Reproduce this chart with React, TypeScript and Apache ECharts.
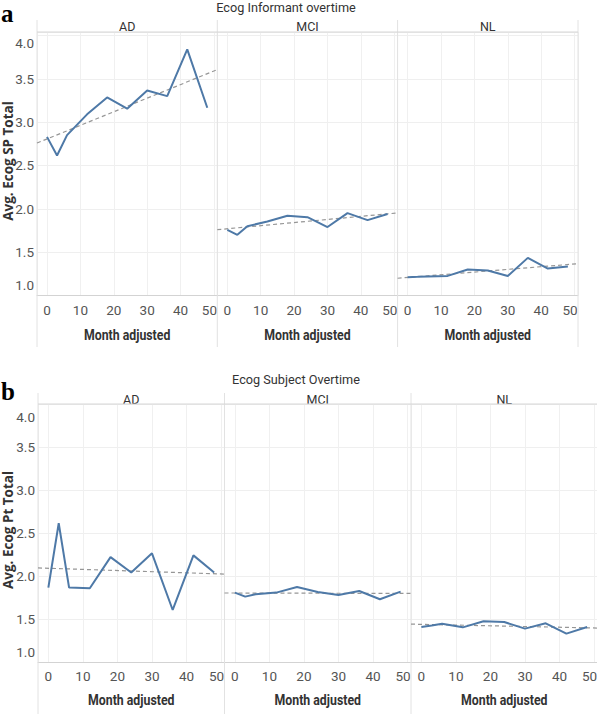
import React, { useEffect, useRef } from 'react';
import * as echarts from 'echarts';

// ---- data ----
const months = [0, 3, 6, 12, 18, 24, 30, 36, 42, 48];
const groups = ['AD', 'MCI', 'NL'];
const informantAD = [2.83, 2.615, 2.85, 3.09, 3.285, 3.155, 3.366, 3.3, 3.84, 3.166];
const informantMCI = [1.757, 1.7, 1.8, 1.853, 1.92, 1.904, 1.79, 1.95, 1.87, 1.94];
const informantNL = [1.211, 1.215, 1.22, 1.226, 1.3, 1.288, 1.224, 1.434, 1.311, 1.334];
const subjectAD = [1.865, 2.613, 1.865, 1.857, 2.22, 2.04, 2.264, 1.605, 2.24, 2.04];
const subjectMCI = [1.807, 1.76, 1.787, 1.807, 1.872, 1.814, 1.78, 1.826, 1.73, 1.818];
const subjectNL = [1.407, 1.425, 1.446, 1.403, 1.473, 1.465, 1.388, 1.45, 1.33, 1.407];
const xTickLabels = [0, 10, 20, 30, 40, 50];
const yTickLabels = [1.0, 1.5, 2.0, 2.5, 3.0, 3.5, 4.0];
const xExtent = [-3, 51];
const titleA = 'Ecog Informant overtime';
const titleB = 'Ecog Subject Overtime';
const yTitleA = 'Avg. Ecog SP Total';
const yTitleB = 'Avg. Ecog Pt Total';
const xTitle = 'Month adjusted';

// ---- helpers ----
function trend(xs: number[], ys: number[]) {
  const n = xs.length;
  const mx = xs.reduce((a, b) => a + b, 0) / n;
  const my = ys.reduce((a, b) => a + b, 0) / n;
  let sxy = 0, sxx = 0;
  for (let i = 0; i < n; i++) { sxy += (xs[i] - mx) * (ys[i] - my); sxx += (xs[i] - mx) ** 2; }
  const b = sxy / sxx;
  const a = my - b * mx;
  return [xExtent[0], xExtent[1]].map((x) => [x, a + b * x]);
}

const BLUE = '#4e79a7';
const TXT = '#333';
const TICK = '#555';
const FONT = 'Roboto, "Noto Sans", sans-serif';

type Row = {
  lefts: number[]; width: number; top: number; height: number; yMax: number;
  data: number[][]; topPad: number; botPad: number;
  frameTop: number; frameBottom: number; right: number;
  title: string; titleX: number; titleY: number; yTitle: string; yTitleY: number;
  letter: string; letterY: number; headerY: number; xTitleY: number;
};

const rows: Row[] = [
  {
    lefts: [37, 217.3, 397.6], width: 180.3, top: 32, height: 263.5, yMax: 4.04,
    data: [informantAD, informantMCI, informantNL], topPad: 16, botPad: 21,
    frameTop: 20, frameBottom: 347, right: 578,
    title: titleA, titleX: 286, titleY: 7, yTitle: yTitleA, yTitleY: 161,
    letter: 'a', letterY: 1, headerY: 26, xTitleY: 335,
  },
  {
    lefts: [38, 224.5, 411], width: 186.5, top: 404, height: 258, yMax: 4.0,
    data: [subjectAD, subjectMCI, subjectNL], topPad: 26, botPad: 20,
    frameTop: 393, frameBottom: 714, right: 597.5,
    title: titleB, titleX: 296, titleY: 379, yTitle: yTitleB, yTitleY: 530,
    letter: 'b', letterY: 379, headerY: 399, xTitleY: 700,
  },
];

export default function App() {
  const ref = useRef<HTMLDivElement>(null);
  useEffect(() => {
    if (!ref.current) return;
    const chart = echarts.init(ref.current, undefined, { renderer: 'svg' });
    const grid: any[] = [];
    const xAxis: any[] = [];
    const yAxis: any[] = [];
    const series: any[] = [];
    const graphic: any[] = [];

    rows.forEach((row) => {
      row.lefts.forEach((left, c) => {
        const idx = grid.length;
        grid.push({ left, top: row.top, width: row.width, height: row.height, containLabel: false, outerBoundsMode: 'none' });
        xAxis.push({
          type: 'value', gridIndex: idx, min: xExtent[0], max: xExtent[1],
          minInterval: 10, maxInterval: 10,
          axisLine: { show: true, lineStyle: { color: '#d3d3d3', width: 1 } },
          axisTick: { show: false },
          splitLine: { show: true, lineStyle: { color: '#f0f0f0', width: 1 } },
          axisLabel: {
            margin: 7,
            formatter: (v: number) => {
              if (!xTickLabels.some((t) => Math.abs(t - v) < 1e-6)) return '';
              if (Math.abs(v - xTickLabels[xTickLabels.length - 1]) < 1e-6) return `{e|${v}}`;
              return `{n|${v}}`;
            },
            rich: {
              n: { fontFamily: FONT, fontSize: 13.5, color: TICK },
              e: { fontFamily: FONT, fontSize: 13.5, color: TICK, padding: [0, 9, 0, 0] },
            },
          },
        });
        yAxis.push({
          type: 'value', gridIndex: idx, min: yTickLabels[0], max: row.yMax, interval: 0.5,
          axisLine: { show: false }, axisTick: { show: false },
          splitLine: { show: true, lineStyle: { color: '#efefef', width: 1 } },
          axisLabel: {
            show: c === 0, margin: 3,
            formatter: (v: number) => {
              if (!yTickLabels.some((t) => Math.abs(t - v) < 1e-6)) return '';
              const s = v.toFixed(1);
              if (Math.abs(v - yTickLabels[0]) < 1e-6) return `{lo|${s}}`;
              if (Math.abs(v - yTickLabels[yTickLabels.length - 1]) < 1e-6) return `{hi|${s}}`;
              return `{n|${s}}`;
            },
            rich: {
              n: { fontFamily: FONT, fontSize: 13.5, color: TICK },
              lo: { fontFamily: FONT, fontSize: 13.5, color: TICK, padding: [0, 0, row.botPad, 0] },
              hi: { fontFamily: FONT, fontSize: 13.5, color: TICK, padding: [row.topPad, 0, 0, 0] },
            },
          },
        });
        const vals = row.data[c];
        series.push({
          type: 'line', xAxisIndex: idx, yAxisIndex: idx, symbol: 'none', silent: true, z: 2,
          data: trend(months, vals),
          lineStyle: { color: '#969696', width: 1.2, type: [4, 3] },
        });
        series.push({
          type: 'line', xAxisIndex: idx, yAxisIndex: idx, symbol: 'none', showSymbol: false, silent: true, z: 3,
          data: months.map((m, k) => [m, vals[k]]),
          lineStyle: { color: BLUE, width: 2 },
        });
        graphic.push({
          type: 'text', x: left + row.width / 2, y: row.headerY, silent: true,
          style: { text: groups[c], fontFamily: FONT, fontSize: 12.5, fill: TXT, align: 'center', verticalAlign: 'middle' },
        });
        graphic.push({
          type: 'text', x: left + row.width / 2, y: row.xTitleY, scaleX: 0.88, silent: true,
          style: { text: xTitle, x: 0, y: 0, fontFamily: FONT, fontWeight: 'bold', fontSize: 14, fill: TXT, align: 'center', verticalAlign: 'middle' },
        });
      });
      const xs = [...row.lefts, row.right];
      xs.forEach((x) => {
        graphic.push({
          type: 'line', silent: true, z: 1,
          shape: { x1: x, y1: row.frameTop, x2: x, y2: row.frameBottom },
          style: { stroke: '#e2e2e2', lineWidth: 1 },
        });
      });
      graphic.push({
        type: 'line', silent: true, z: 1,
        shape: { x1: row.lefts[0], y1: row.top, x2: row.right, y2: row.top },
        style: { stroke: '#d6d6d6', lineWidth: 1 },
      });
      graphic.push({
        type: 'text', x: row.titleX, y: row.titleY, silent: true,
        style: { text: row.title, fontFamily: FONT, fontSize: 12.7, fill: TXT, align: 'center', verticalAlign: 'middle' },
      });
      graphic.push({
        type: 'text', x: 8, y: row.yTitleY, rotation: Math.PI / 2, silent: true,
        style: { text: row.yTitle, x: 0, y: 0, fontFamily: '"Open Sans", sans-serif', fontWeight: 'bold', fontSize: 13.5, fill: TXT, align: 'center', verticalAlign: 'middle' },
      });
      graphic.push({
        type: 'text', x: 1, y: row.letterY, silent: true,
        style: { text: row.letter, fontFamily: '"Liberation Serif", "DejaVu Serif", serif', fontWeight: 'bold', fontSize: 25, fill: '#000', align: 'left', verticalAlign: 'top' },
      });
    });

    chart.setOption({ animation: false, backgroundColor: '#fff', grid, xAxis, yAxis, series, graphic });
    return () => chart.dispose();
  }, []);
  return <div ref={ref} style={{ position: 'absolute', left: 0, top: 0, width: 597, height: 714 }} />;
}
